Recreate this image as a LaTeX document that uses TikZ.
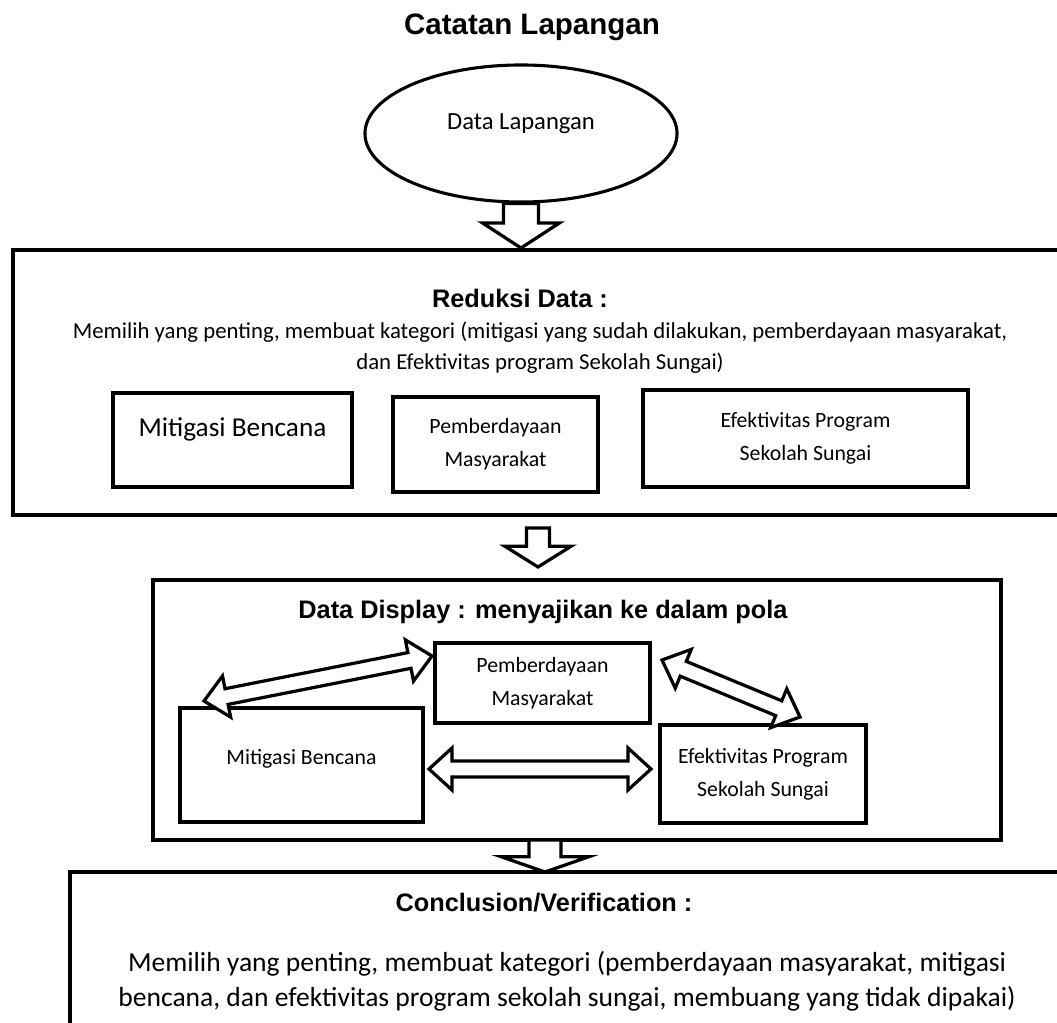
\documentclass[tikz,border=0pt]{standalone}
\usepackage{fontspec}
\setmainfont{Carlito}
\setsansfont{Liberation Sans}
\usetikzlibrary{calc,shapes.geometric}

% block arrow: tail #1, tip #2, head length #3, head half width #4, shaft half width #5
\newcommand\blkarrow[5]{%
  \draw[blk] ($(#1)!#5!90:(#2)$)
    -- ($($(#2)!#3!(#1)$)!#5!-90:(#1)$)
    -- ($($(#2)!#3!(#1)$)!#4!-90:(#1)$)
    -- (#2)
    -- ($($(#2)!#3!(#1)$)!#4!90:(#1)$)
    -- ($($(#2)!#3!(#1)$)!#5!90:(#1)$)
    -- ($(#1)!#5!-90:(#2)$) -- cycle;}
% double block arrow between the tips #1 and #2
\newcommand\dblarrow[5]{%
  \draw[blk] (#1)
    -- ($($(#1)!#3!(#2)$)!#4!90:(#2)$)
    -- ($($(#1)!#3!(#2)$)!#5!90:(#2)$)
    -- ($($(#2)!#3!(#1)$)!#5!-90:(#1)$)
    -- ($($(#2)!#3!(#1)$)!#4!-90:(#1)$)
    -- (#2)
    -- ($($(#2)!#3!(#1)$)!#4!90:(#1)$)
    -- ($($(#2)!#3!(#1)$)!#5!90:(#1)$)
    -- ($($(#1)!#3!(#2)$)!#5!-90:(#2)$)
    -- ($($(#1)!#3!(#2)$)!#4!-90:(#2)$)
    -- cycle;}

\begin{document}
\begin{tikzpicture}[x=0.025cm, y=-0.025cm,
    box/.style={draw, rectangle, line width=2.8pt, inner sep=0pt, align=center},
    hdr/.style={font=\sffamily\bfseries\fontsize{18}{22}\selectfont},
    txt/.style={font=\fontsize{16.2}{22}\selectfont, align=center},
    small/.style={font=\fontsize{15.5}{23.5}\selectfont},
    blk/.style={draw, fill=white, line width=2.3pt, line join=miter}]
  \useasboundingbox (0,0) rectangle (1057,1023);
  \clip (0,0) rectangle (1057,1023);

  \node[font=\sffamily\bfseries\fontsize{21}{25}\selectfont] (title) at (532,27) {Catatan Lapangan};
  \node[draw, ellipse, line width=2.2pt, minimum width=7.8cm, minimum height=3.425cm,
    font=\fontsize{17.5}{21}\selectfont, text height=0.5cm, text depth=0.7cm] (lap) at (521,133.5) {Data Lapangan};

  % reduksi
  \node[box, minimum width=27.175cm, minimum height=6.625cm] (red) at (556.5,382.5) {};
  \node[hdr] (redhd) at (520,298) {Reduksi Data :};
  \node[txt] (redtxt) at (540,348) {Memilih yang penting, membuat kategori (mitigasi yang sudah dilakukan, pemberdayaan masyarakat,\\dan Efektivitas program Sekolah Sungai)};
  \node[box, minimum width=5.975cm, minimum height=2.35cm, font=\fontsize{19.4}{23}\selectfont,
    text height=0.5cm, text depth=0.7cm] (redA) at (232.5,440) {Mitigasi Bencana};
  \node[box, small, minimum width=5.125cm, minimum height=2.375cm] (redB) at (495.5,444.5) {Pemberdayaan\\Masyarakat};
  \node[box, small, minimum width=8.125cm, minimum height=2.425cm] (redC) at (805.5,438.5) {Efektivitas Program\\Sekolah Sungai};

  % display
  \node[box, minimum width=21.2cm, minimum height=6.5cm] (disp) at (577,710) {};
  \node[hdr] (disphd) at (543,612) {Data Display : menyajikan ke dalam pola};
  \node[box, small, minimum width=5.375cm, minimum height=2cm] (dispP) at (542.5,683) {Pemberdayaan\\Masyarakat};
  \node[box, small, minimum width=6.075cm, minimum height=2.85cm,
    text height=0.4cm, text depth=0.45cm] (dispM) at (301.5,765) {Mitigasi Bencana};
  \node[box, small, minimum width=5.15cm, minimum height=2.45cm] (dispE) at (763,774) {Efektivitas Program\\Sekolah Sungai};

  % conclusion
  \node[box, minimum width=25.75cm, minimum height=4.7cm] (concl) at (585,966) {};
  \node[hdr] (conclhd) at (544,903) {Conclusion/Verification :};
  \node[txt, font=\fontsize{19.6}{25}\selectfont] (concltxt) at (567,981) {Memilih yang penting, membuat kategori (pemberdayaan masyarakat, mitigasi\\bencana, dan efektivitas program sekolah sungai, membuang yang tidak dipakai)};

  % block arrows
  \coordinate (a1) at (lap.south |- red.north);
  \blkarrow{lap.south}{a1}{0.625cm}{0.96cm}{0.44cm}
  \coordinate (a2t) at (538,528);
  \coordinate (a2h) at (538,567);
  \blkarrow{a2t}{a2h}{0.52cm}{0.83cm}{0.29cm}
  \coordinate (a3t) at (545,840);
  \coordinate (a3h) at (545,872);
  \blkarrow{a3t}{a3h}{0.38cm}{1.09cm}{0.4cm}

  \coordinate (mp1) at (204,701);
  \coordinate (mp2) at (432,656);
  \dblarrow{mp1}{mp2}{0.575cm}{0.525cm}{0.2cm}
  \coordinate (pe1) at (662,660);
  \coordinate (pe2) at (800,717);
  \dblarrow{pe1}{pe2}{0.575cm}{0.525cm}{0.2cm}
  \coordinate (me1) at (429,769);
  \coordinate (me2) at (651,769);
  \dblarrow{me1}{me2}{0.575cm}{0.525cm}{0.2cm}
\end{tikzpicture}
\end{document}
